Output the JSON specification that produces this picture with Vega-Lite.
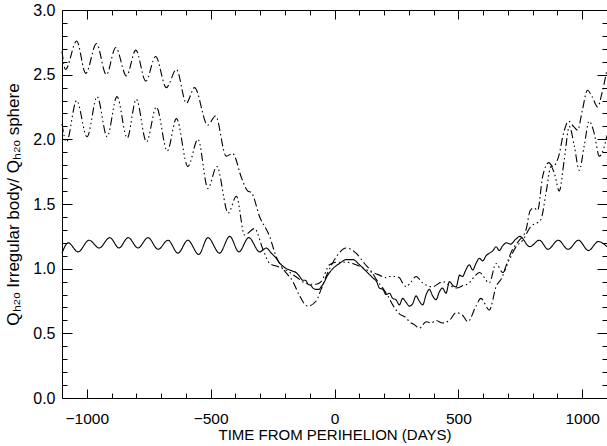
{
  "$schema": "https://vega.github.io/schema/vega-lite/v6.json",
  "width": 545,
  "height": 388,
  "autosize": {"type": "none"},
  "padding": {"left": 62, "top": 10, "right": 0, "bottom": 48},
  "background": "white",
  "config": {"view": {"stroke": "black", "strokeWidth": 1}, "font": "Liberation Sans",
    "axis": {"grid": false, "domain": false, "tickColor": "black", "tickWidth": 1}},
  "layer": [
    {
      "data": {"values": [
        {"s":"S","t":-1100,"q":1.12},{"s":"S","t":-1075,"q":1.20},{"s":"S","t":-1035,"q":1.13},{"s":"S","t":-991,"q":1.22},{"s":"S","t":-950,"q":1.16},{"s":"S","t":-907,"q":1.24},{"s":"S","t":-870,"q":1.16},{"s":"S","t":-833,"q":1.24},{"s":"S","t":-793,"q":1.16},{"s":"S","t":-753,"q":1.24},{"s":"S","t":-712,"q":1.15},{"s":"S","t":-672,"q":1.22},{"s":"S","t":-632,"q":1.12},{"s":"S","t":-592,"q":1.22},{"s":"S","t":-548,"q":1.11},{"s":"S","t":-511,"q":1.24},{"s":"S","t":-464,"q":1.12},{"s":"S","t":-423,"q":1.25},{"s":"S","t":-386,"q":1.13},{"s":"S","t":-346,"q":1.24},{"s":"S","t":-302,"q":1.13},{"s":"S","t":-285,"q":1.15},{"s":"S","t":-276,"q":1.16},{"s":"S","t":-255,"q":1.12},{"s":"S","t":-235,"q":1.08},{"s":"S","t":-220,"q":1.04},{"s":"S","t":-208,"q":1.02},{"s":"S","t":-195,"q":1.00},{"s":"S","t":-181,"q":0.99},{"s":"S","t":-168,"q":0.98},{"s":"S","t":-155,"q":0.97},{"s":"S","t":-141,"q":0.94},{"s":"S","t":-128,"q":0.91},{"s":"S","t":-117,"q":0.91},{"s":"S","t":-107,"q":0.88},{"s":"S","t":-95,"q":0.87},{"s":"S","t":-87,"q":0.85},{"s":"S","t":-74,"q":0.84},{"s":"S","t":-62,"q":0.84},{"s":"S","t":-54,"q":0.86},{"s":"S","t":-40,"q":0.90},{"s":"S","t":-33,"q":0.93},{"s":"S","t":-20,"q":0.97},{"s":"S","t":-7,"q":1.00},{"s":"S","t":5,"q":1.02},{"s":"S","t":20,"q":1.04},{"s":"S","t":47,"q":1.07},{"s":"S","t":74,"q":1.07},{"s":"S","t":101,"q":1.03},{"s":"S","t":128,"q":0.98},{"s":"S","t":154,"q":0.93},{"s":"S","t":170,"q":0.90},{"s":"S","t":181,"q":0.85},{"s":"S","t":195,"q":0.84},{"s":"S","t":208,"q":0.80},{"s":"S","t":222,"q":0.81},{"s":"S","t":235,"q":0.77},{"s":"S","t":248,"q":0.76},{"s":"S","t":262,"q":0.72},{"s":"S","t":275,"q":0.77},{"s":"S","t":289,"q":0.74},{"s":"S","t":302,"q":0.71},{"s":"S","t":316,"q":0.73},{"s":"S","t":329,"q":0.79},{"s":"S","t":342,"q":0.75},{"s":"S","t":356,"q":0.72},{"s":"S","t":370,"q":0.80},{"s":"S","t":383,"q":0.84},{"s":"S","t":396,"q":0.79},{"s":"S","t":410,"q":0.76},{"s":"S","t":423,"q":0.82},{"s":"S","t":436,"q":0.85},{"s":"S","t":450,"q":0.81},{"s":"S","t":464,"q":0.90},{"s":"S","t":478,"q":0.87},{"s":"S","t":491,"q":0.86},{"s":"S","t":505,"q":0.95},{"s":"S","t":517,"q":0.94},{"s":"S","t":530,"q":0.99},{"s":"S","t":544,"q":1.03},{"s":"S","t":558,"q":0.99},{"s":"S","t":571,"q":1.04},{"s":"S","t":585,"q":1.08},{"s":"S","t":598,"q":1.06},{"s":"S","t":612,"q":1.10},{"s":"S","t":625,"q":1.12},{"s":"S","t":640,"q":1.14},{"s":"S","t":652,"q":1.17},{"s":"S","t":665,"q":1.14},{"s":"S","t":680,"q":1.18},{"s":"S","t":695,"q":1.20},{"s":"S","t":710,"q":1.19},{"s":"S","t":733,"q":1.23},{"s":"S","t":748,"q":1.25},{"s":"S","t":788,"q":1.17},{"s":"S","t":827,"q":1.22},{"s":"S","t":862,"q":1.15},{"s":"S","t":903,"q":1.22},{"s":"S","t":943,"q":1.15},{"s":"S","t":985,"q":1.22},{"s":"S","t":1025,"q":1.14},{"s":"S","t":1065,"q":1.21},{"s":"S","t":1100,"q":1.17},
        {"s":"A","t":-1100,"q":2.68},{"s":"A","t":-1086,"q":2.54},{"s":"A","t":-1041,"q":2.76},{"s":"A","t":-1004,"q":2.51},{"s":"A","t":-961,"q":2.74},{"s":"A","t":-921,"q":2.50},{"s":"A","t":-883,"q":2.71},{"s":"A","t":-840,"q":2.49},{"s":"A","t":-802,"q":2.69},{"s":"A","t":-762,"q":2.45},{"s":"A","t":-722,"q":2.64},{"s":"A","t":-679,"q":2.40},{"s":"A","t":-638,"q":2.54},{"s":"A","t":-598,"q":2.28},{"s":"A","t":-565,"q":2.40},{"s":"A","t":-512,"q":2.11},{"s":"A","t":-480,"q":2.18},{"s":"A","t":-437,"q":1.87},{"s":"A","t":-411,"q":1.89},{"s":"A","t":-375,"q":1.70},{"s":"A","t":-350,"q":1.60},{"s":"A","t":-336,"q":1.59},{"s":"A","t":-302,"q":1.40},{"s":"A","t":-262,"q":1.25},{"s":"A","t":-235,"q":1.09},{"s":"A","t":-208,"q":1.00},{"s":"A","t":-168,"q":0.90},{"s":"A","t":-141,"q":0.79},{"s":"A","t":-108,"q":0.71},{"s":"A","t":-74,"q":0.75},{"s":"A","t":-54,"q":0.84},{"s":"A","t":-27,"q":0.97},{"s":"A","t":7,"q":1.09},{"s":"A","t":47,"q":1.16},{"s":"A","t":87,"q":1.12},{"s":"A","t":121,"q":1.04},{"s":"A","t":148,"q":0.98},{"s":"A","t":175,"q":0.90},{"s":"A","t":195,"q":0.85},{"s":"A","t":215,"q":0.79},{"s":"A","t":235,"q":0.72},{"s":"A","t":262,"q":0.65},{"s":"A","t":289,"q":0.62},{"s":"A","t":302,"q":0.59},{"s":"A","t":320,"q":0.57},{"s":"A","t":343,"q":0.54},{"s":"A","t":370,"q":0.59},{"s":"A","t":390,"q":0.58},{"s":"A","t":410,"q":0.60},{"s":"A","t":436,"q":0.58},{"s":"A","t":464,"q":0.60},{"s":"A","t":491,"q":0.66},{"s":"A","t":517,"q":0.64},{"s":"A","t":538,"q":0.59},{"s":"A","t":571,"q":0.71},{"s":"A","t":591,"q":0.77},{"s":"A","t":625,"q":0.68},{"s":"A","t":652,"q":0.86},{"s":"A","t":678,"q":0.94},{"s":"A","t":692,"q":1.02},{"s":"A","t":719,"q":1.15},{"s":"A","t":746,"q":1.22},{"s":"A","t":773,"q":1.30},{"s":"A","t":790,"q":1.45},{"s":"A","t":805,"q":1.47},{"s":"A","t":820,"q":1.45},{"s":"A","t":840,"q":1.71},{"s":"A","t":865,"q":1.82},{"s":"A","t":882,"q":1.79},{"s":"A","t":905,"q":1.87},{"s":"A","t":925,"q":2.05},{"s":"A","t":945,"q":2.14},{"s":"A","t":965,"q":2.10},{"s":"A","t":981,"q":2.07},{"s":"A","t":1000,"q":2.22},{"s":"A","t":1021,"q":2.38},{"s":"A","t":1040,"q":2.33},{"s":"A","t":1062,"q":2.25},{"s":"A","t":1080,"q":2.36},{"s":"A","t":1100,"q":2.54},
        {"s":"B","t":-1100,"q":2.12},{"s":"B","t":-1082,"q":1.98},{"s":"B","t":-1041,"q":2.30},{"s":"B","t":-999,"q":2.02},{"s":"B","t":-958,"q":2.33},{"s":"B","t":-918,"q":2.02},{"s":"B","t":-878,"q":2.33},{"s":"B","t":-837,"q":2.01},{"s":"B","t":-800,"q":2.31},{"s":"B","t":-759,"q":1.98},{"s":"B","t":-719,"q":2.25},{"s":"B","t":-675,"q":1.91},{"s":"B","t":-638,"q":2.16},{"s":"B","t":-592,"q":1.79},{"s":"B","t":-551,"q":2.00},{"s":"B","t":-511,"q":1.62},{"s":"B","t":-475,"q":1.79},{"s":"B","t":-429,"q":1.43},{"s":"B","t":-396,"q":1.56},{"s":"B","t":-363,"q":1.26},{"s":"B","t":-323,"q":1.31},{"s":"B","t":-289,"q":1.15},{"s":"B","t":-262,"q":1.04},{"s":"B","t":-235,"q":1.02},{"s":"B","t":-208,"q":1.00},{"s":"B","t":-181,"q":0.97},{"s":"B","t":-150,"q":0.93},{"s":"B","t":-120,"q":0.89},{"s":"B","t":-100,"q":0.88},{"s":"B","t":-74,"q":0.88},{"s":"B","t":-54,"q":0.90},{"s":"B","t":-20,"q":1.03},{"s":"B","t":10,"q":1.05},{"s":"B","t":47,"q":1.05},{"s":"B","t":87,"q":1.03},{"s":"B","t":141,"q":0.98},{"s":"B","t":181,"q":0.95},{"s":"B","t":208,"q":0.93},{"s":"B","t":222,"q":0.94},{"s":"B","t":242,"q":0.94},{"s":"B","t":262,"q":0.93},{"s":"B","t":275,"q":0.89},{"s":"B","t":289,"q":0.86},{"s":"B","t":310,"q":0.90},{"s":"B","t":329,"q":0.94},{"s":"B","t":356,"q":0.89},{"s":"B","t":396,"q":0.86},{"s":"B","t":437,"q":0.90},{"s":"B","t":465,"q":0.87},{"s":"B","t":491,"q":0.85},{"s":"B","t":520,"q":0.87},{"s":"B","t":544,"q":0.89},{"s":"B","t":565,"q":0.94},{"s":"B","t":585,"q":0.97},{"s":"B","t":625,"q":0.89},{"s":"B","t":652,"q":1.04},{"s":"B","t":679,"q":0.97},{"s":"B","t":706,"q":1.07},{"s":"B","t":733,"q":1.17},{"s":"B","t":760,"q":1.22},{"s":"B","t":790,"q":1.32},{"s":"B","t":833,"q":1.38},{"s":"B","t":855,"q":1.60},{"s":"B","t":874,"q":1.79},{"s":"B","t":890,"q":1.72},{"s":"B","t":907,"q":1.60},{"s":"B","t":928,"q":1.85},{"s":"B","t":948,"q":2.10},{"s":"B","t":968,"q":1.95},{"s":"B","t":988,"q":1.76},{"s":"B","t":1008,"q":1.95},{"s":"B","t":1028,"q":2.14},{"s":"B","t":1048,"q":2.05},{"s":"B","t":1069,"q":1.87},{"s":"B","t":1085,"q":1.92},{"s":"B","t":1100,"q":2.03}
      ]},
      "mark": {"type": "line", "interpolate": "monotone", "strokeWidth": 1.1, "color": "black"},
      "encoding": {
        "x": {"field": "t", "type": "quantitative",
          "scale": {"domain": [-1100, 1100], "nice": false, "zero": false},
          "axis": {"orient": "bottom", "title": "TIME FROM PERIHELION (DAYS)",
            "values": [-1000, -500, 0, 500, 1000], "format": "d", "tickSize": -9,
            "labelFont": "Liberation Sans", "labelFontSize": 15.5, "labelColor": "black", "labelPadding": 22,
            "titleFont": "Liberation Sans", "titleFontSize": 15, "titleFontWeight": "normal", "titleColor": "black",
            "titleY": 41, "titleBaseline": "alphabetic"}},
        "y": {"field": "q", "type": "quantitative",
          "scale": {"domain": [0, 3], "nice": false, "zero": false},
          "axis": {"orient": "left", "title": "Qₕ₂ₒ Irregular body/  Qₕ₂ₒ sphere",
            "values": [0, 0.5, 1, 1.5, 2, 2.5, 3], "format": ".1f", "tickSize": -10,
            "labelFont": "Liberation Sans", "labelFontSize": 16, "labelColor": "black", "labelPadding": 17,
            "titleFont": "Liberation Sans", "titleFontSize": 17, "titleFontWeight": "normal", "titleColor": "black", "titlePadding": 10}},
        "strokeDash": {"field": "s", "type": "nominal",
          "scale": {"domain": ["S", "A", "B"], "range": [[1, 0], [8, 3, 1.5, 3], [8, 3, 1.5, 3, 1.5, 3, 1.5, 3]]},
          "legend": null}
      }
    },
    {
      "data": {"values": [{"t": -1100, "q": 0}, {"t": 1100, "q": 3}]},
      "mark": {"type": "point", "opacity": 0},
      "encoding": {
        "x": {"field": "t", "type": "quantitative",
          "axis": {"orient": "bottom", "title": null, "labels": false, "tickSize": -5,
            "values": [-1000,-900,-800,-700,-600,-400,-300,-200,-100,100,200,300,400,600,700,800,900,1000]}},
        "y": {"field": "q", "type": "quantitative",
          "axis": {"orient": "left", "title": null, "labels": false, "tickSize": -5,
            "values": [0.1,0.2,0.3,0.4,0.6,0.7,0.8,0.9,1.1,1.2,1.3,1.4,1.6,1.7,1.8,1.9,2.1,2.2,2.3,2.4,2.6,2.7,2.8,2.9]}}
      }
    },
    {
      "data": {"values": [{"t": -1100, "q": 0}, {"t": 1100, "q": 3}]},
      "mark": {"type": "point", "opacity": 0},
      "encoding": {
        "x": {"field": "t", "type": "quantitative",
          "axis": {"orient": "top", "title": null, "labels": false, "tickSize": -9,
            "values": [-1000, -500, 0, 500, 1000]}},
        "y": {"field": "q", "type": "quantitative",
          "axis": {"orient": "right", "title": null, "labels": false, "tickSize": -10,
            "values": [0.5, 1, 1.5, 2, 2.5]}}
      }
    },
    {
      "data": {"values": [{"t": -1100, "q": 0}, {"t": 1100, "q": 3}]},
      "mark": {"type": "point", "opacity": 0},
      "encoding": {
        "x": {"field": "t", "type": "quantitative",
          "axis": {"orient": "top", "title": null, "labels": false, "tickSize": -5,
            "values": [-1000,-900,-800,-700,-600,-400,-300,-200,-100,100,200,300,400,600,700,800,900,1000]}},
        "y": {"field": "q", "type": "quantitative",
          "axis": {"orient": "right", "title": null, "labels": false, "tickSize": -5,
            "values": [0.1,0.2,0.3,0.4,0.6,0.7,0.8,0.9,1.1,1.2,1.3,1.4,1.6,1.7,1.8,1.9,2.1,2.2,2.3,2.4,2.6,2.7,2.8,2.9]}}
      }
    }
  ],
  "resolve": {"axis": {"x": "independent", "y": "independent"}}
}
